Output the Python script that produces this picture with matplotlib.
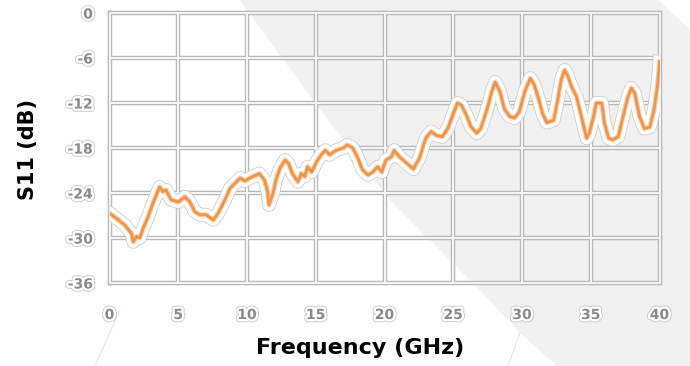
import numpy as np
import matplotlib.pyplot as plt
import matplotlib.patheffects as pe
from matplotlib.patches import Polygon

plt.rcParams['axes.unicode_minus'] = False

# S11 trace
freq = [0, 0.52, 1.13, 1.6, 1.73, 1.97, 2.2, 2.45, 2.8, 3.15, 3.4, 3.64, 3.88, 4.12,
        4.48, 5.0, 5.49, 5.85, 6.2, 6.58, 7.03, 7.55, 7.9, 8.4, 8.76, 9.13, 9.5, 9.85,
        10.2, 10.45, 10.9, 11.27, 11.5, 11.6, 11.9, 12.1, 12.4, 12.76, 13.0, 13.3, 13.7,
        13.95, 14.2, 14.4, 14.7, 15.07, 15.4, 15.7, 16.0, 16.5, 17.0, 17.3, 17.7, 18.07,
        18.4, 18.8, 19.15, 19.5, 19.8, 20.1, 20.5, 20.7, 21.1, 21.6, 22.1, 22.55, 23.0,
        23.4, 23.75, 24.2, 24.6, 24.97, 25.3, 25.6, 25.95, 26.3, 26.7, 27.0, 27.4, 27.8,
        28.05, 28.4, 28.7, 29.1, 29.45, 29.8, 30.2, 30.6, 30.9, 31.2, 31.5, 31.8, 32.3,
        32.6, 32.85, 33.1, 33.35, 33.6, 33.97, 34.2, 34.5, 34.7, 34.9, 35.2, 35.4, 35.8,
        36.0, 36.3, 36.6, 37.0, 37.35, 37.7, 37.95, 38.2, 38.55, 38.9, 39.3, 39.6, 39.85,
        40.0]
s11 = [-26.7, -27.4, -28.3, -29.4, -30.5, -29.8, -30.0, -28.7, -27.2, -25.4, -24.3, -23.2,
       -23.8, -23.6, -24.9, -25.2, -24.5, -25.2, -26.5, -26.9, -26.9, -27.6, -26.7, -24.9,
       -23.4, -22.7, -22.0, -22.4, -22.0, -21.8, -21.4, -22.3, -23.8, -25.6, -24.0, -22.3,
       -20.7, -19.6, -20.0, -21.4, -22.5, -21.4, -21.8, -20.5, -21.2, -19.8, -18.9, -18.3,
       -18.9, -18.3, -18.0, -17.6, -18.0, -19.4, -20.9, -21.6, -21.2, -20.5, -21.2, -19.6,
       -19.2, -18.3, -19.2, -20.0, -20.8, -19.3, -16.7, -15.8, -16.3, -16.5, -15.4, -13.6,
       -12.0, -12.3, -13.6, -15.2, -16.0, -15.4, -13.2, -10.5, -9.2, -10.5, -12.7, -13.8,
       -14.0, -13.2, -10.5, -8.7, -9.6, -11.4, -13.4, -14.6, -14.3, -11.6, -8.9, -7.6,
       -8.5, -9.8, -11.2, -12.9, -15.2, -16.7, -16.0, -13.8, -12.0, -12.0, -14.7, -16.7,
       -16.9, -16.5, -13.8, -11.2, -10.0, -10.7, -13.8, -15.4, -15.2, -12.9, -9.8, -6.5]

xticks = [0, 5, 10, 15, 20, 25, 30, 35, 40]
yticks = [0, -6, -12, -18, -24, -30, -36]

W, H = 690, 366
fig = plt.figure(figsize=(W / 100, H / 100), dpi=100)

# grey diagonal backdrop (pixel coords, y from top)
bg = [(240, 0), (658, 0), (690, 30), (690, 366), (557, 366), (520, 333),
      (480, 290), (387, 197), (313, 100), (252, 17)]
bg = [(x / W, 1 - y / H) for x, y in bg]
fig.patches.append(Polygon(bg, closed=True, transform=fig.transFigure,
                           facecolor='#f1f1f1', edgecolor='none', zorder=-5))
# faint thin strokes near the bottom
fig.add_artist(plt.Line2D([120 / W, 95 / W], [1 - 310 / H, 0], color='#e4e4e4',
                          lw=0.8, transform=fig.transFigure, zorder=-4))
fig.add_artist(plt.Line2D([520 / W, 508 / W], [1 - 333 / H, 0], color='#e4e4e4',
                          lw=0.8, transform=fig.transFigure, zorder=-4))

ax = fig.add_axes([109.5 / W, 1 - 283 / H, 550 / W, 270 / H])
ax.patch.set_alpha(0)
ax.set_xlim(0, 40)
ax.set_ylim(-36, 0)
for s in ax.spines.values():
    s.set_visible(False)

# double-line grid: grey stroke with a light core
for x in xticks:
    ax.axvline(x, color='#b8b8b8', lw=3.2, clip_on=False, zorder=1)
    ax.axvline(x, color='#f6f6f6', lw=1.4, clip_on=False, zorder=1.1)
for y in yticks:
    ax.axhline(y, color='#b8b8b8', lw=3.2, clip_on=False, zorder=1)
    ax.axhline(y, color='#f6f6f6', lw=1.4, clip_on=False, zorder=1.1)

ax.plot(freq, s11, color='#f0944a', lw=2.0, zorder=3, solid_joinstyle='round',
        path_effects=[pe.Stroke(linewidth=10, foreground='#cdcdcd'),
                      pe.Stroke(linewidth=8.8, foreground='white'),
                      pe.Stroke(linewidth=3.6, foreground='#f8d2ae'),
                      pe.Normal()])

ax.set_xticks(xticks)
ax.set_yticks(yticks)
ax.tick_params(axis='y', length=0, pad=12)
ax.tick_params(axis='x', length=0, pad=18)
halo = [pe.Stroke(linewidth=4.5, foreground='#bdbdbd'),
        pe.Stroke(linewidth=3.5, foreground='white'), pe.Normal()]
for lab in ax.get_xticklabels() + ax.get_yticklabels():
    lab.set_fontsize(10)
    lab.set_fontweight('bold')
    lab.set_color('#8a8a8a')
    lab.set_path_effects(halo)

fig.text(360 / W, 1 - 348 / H, 'Frequency (GHz)', fontsize=16, fontweight='bold',
         ha='center', va='center')
fig.text(28 / W, 1 - 150 / H, 'S11 (dB)', fontsize=15, fontweight='bold',
         ha='center', va='center', rotation=90)

fig.savefig('out.png', dpi=100)
